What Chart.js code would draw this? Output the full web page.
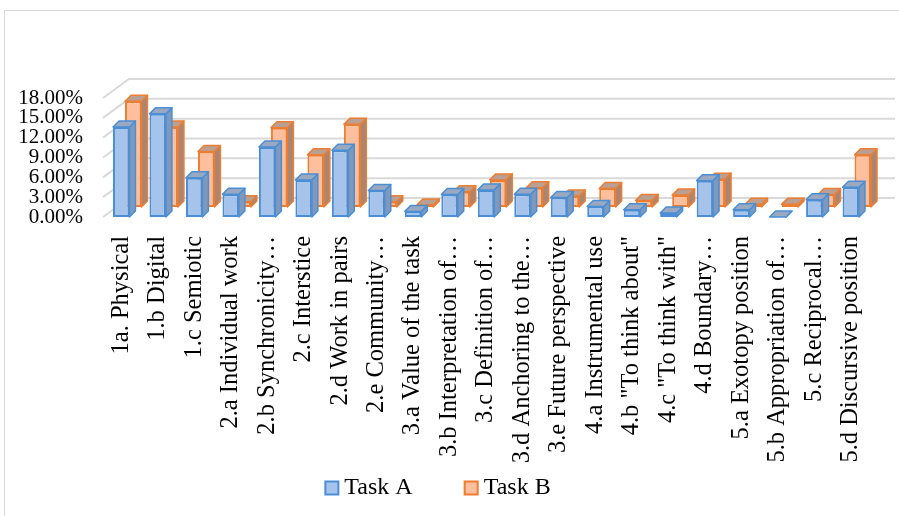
<!DOCTYPE html>
<html>
<head>
<meta charset="utf-8">
<script src="https://cdn.jsdelivr.net/npm/chart.js@4.4.1/dist/chart.umd.min.js"></script>
<style>
  html, body { margin: 0; padding: 0; background: #fff; }
  #wrap { position: relative; width: 899px; height: 516px; overflow: hidden; }
  #frame { position: absolute; left: 4px; top: 10px; width: 910px; height: 520px; border: 1.5px solid #d9d9d9; }
  #c { position: absolute; left: 0; top: 0; }
</style>
</head>
<body>
<div id="wrap">
  <div id="frame"></div>
  <canvas id="c" width="899" height="516"></canvas>
</div>
<script>
const categories = [
  '1a. Physical', '1.b Digital', '1.c Semiotic', '2.a Individual work',
  '2.b Synchronicity…', '2.c Interstice', '2.d Work in pairs', '2.e Community…',
  '3.a Value of the task', '3.b Interpretation of…', '3.c Definition of…',
  '3.d Anchoring to the…', '3.e Future perspective', '4.a Instrumental use',
  '4.b "To think about"', '4.c "To think with"', '4.d Boundary…',
  '5.a Exotopy position', '5.b Appropriation of…', '5.c Reciprocal…',
  '5.d Discursive position'
];
const seriesNames = ['Task A', 'Task B'];
// percentages
const taskA = [13.6, 15.6, 5.95, 3.45, 10.6, 5.6, 10.1, 4.0, 0.85, 3.4, 4.1,
               3.45, 2.95, 1.6, 1.1, 0.6, 5.5, 1.1, 0, 2.6, 4.5];
const taskB = [16.0, 12.1, 8.4, 0.8, 12.0, 7.9, 12.5, 0.8, 0.3, 2.3, 4.1,
               2.9, 1.65, 2.8, 1.0, 1.8, 4.2, 0.4, 0.4, 1.9, 7.9];
const yTicks = [0, 3, 6, 9, 12, 15, 18];

const WALL = { dx: 26, dy: -19 };  // back wall offset
const ROW = { dx: 12, dy: -10 };   // Task B row sits behind Task A
const FACE = 6;                    // bar depth
const AXIS_BOTTOM = 217;

const serif = 'Liberation Serif, Times New Roman, serif';

// back wall + left wall gridlines
const walls = {
  id: 'walls',
  beforeDatasetsDraw(chart){
    const { ctx, chartArea: a, scales: { y } } = chart;
    ctx.save();
    ctx.strokeStyle = '#d9d9d9';
    ctx.lineWidth = 2;
    yTicks.forEach(v => {
      const py = y.getPixelForValue(v);
      ctx.beginPath();
      ctx.moveTo(a.left, py);
      ctx.lineTo(a.left + WALL.dx, py + WALL.dy);
      ctx.lineTo(a.right + WALL.dx, py + WALL.dy);
      ctx.stroke();
    });
    ctx.restore();
  }
};

// top and side faces of each column
const bars3d = {
  id: 'bars3d',
  beforeDatasetDraw(chart, args){
    if(args.index === 1){
      chart.ctx.save();
      chart.ctx.translate(ROW.dx, ROW.dy);
    }
  },
  afterDatasetDraw(chart, args){
    const ctx = chart.ctx;
    const ds = chart.data.datasets[args.index];
    args.meta.data.forEach(bar => {
      const { x, y, base, width } = bar.getProps(['x', 'y', 'base', 'width'], true);
      const l = x - width / 2, r = x + width / 2;
      ctx.save();
      ctx.lineWidth = 1.5;
      ctx.lineJoin = 'round';
      ctx.strokeStyle = ds.borderColor;
      ctx.beginPath();
      ctx.moveTo(r, y); ctx.lineTo(r + FACE, y - FACE);
      ctx.lineTo(r + FACE, base - FACE); ctx.lineTo(r, base);
      ctx.closePath();
      ctx.fillStyle = ds.sideColor; ctx.fill(); ctx.stroke();
      ctx.beginPath();
      ctx.moveTo(l, y); ctx.lineTo(r, y);
      ctx.lineTo(r + FACE, y - FACE); ctx.lineTo(l + FACE, y - FACE);
      ctx.closePath();
      ctx.fillStyle = ds.topColor; ctx.fill(); ctx.stroke();
      ctx.restore();
    });
    if(args.index === 1) ctx.restore();
  }
};

// legend drawn under the labels
const bottomLegend = {
  id: 'bottomLegend',
  afterDraw(chart){
    const ctx = chart.ctx;
    const box = 13, gapText = 6, gapItem = 52, cy = 488, cx = 438;
    ctx.save();
    ctx.font = '24px ' + serif;
    ctx.textBaseline = 'middle';
    const items = chart.data.datasets.map(ds => ({ ds, w: ctx.measureText(ds.label).width }));
    const total = items.reduce((s, it) => s + box + gapText + it.w, 0) + gapItem * (items.length - 1);
    let x = cx - total / 2;
    items.forEach(it => {
      ctx.fillStyle = it.ds.backgroundColor;
      ctx.strokeStyle = it.ds.borderColor;
      ctx.lineWidth = 2;
      ctx.fillRect(x, cy - box / 2, box, box);
      ctx.strokeRect(x, cy - box / 2, box, box);
      ctx.fillStyle = '#000';
      ctx.fillText(it.ds.label, x + box + gapText, cy);
      x += box + gapText + it.w + gapItem;
    });
    ctx.restore();
  }
};

new Chart(document.getElementById('c'), {
  type: 'bar',
  data: {
    labels: categories,
    datasets: [
      { label: seriesNames[0], data: taskA, backgroundColor: '#a6c3ec', borderColor: '#4a8fd6',
        sideColor: '#7f98bb', topColor: '#9aa9bf', borderWidth: 2, borderSkipped: false },
      { label: seriesNames[1], data: taskB, backgroundColor: '#fdbf9d', borderColor: '#ed7d31',
        sideColor: '#a98674', topColor: '#b9a093', borderWidth: 2, borderSkipped: false }
    ]
  },
  options: {
    responsive: false,
    animation: false,
    devicePixelRatio: 1,
    layout: { padding: { top: 98, left: 16, right: 30, bottom: 0 } },
    datasets: { bar: { grouped: false, categoryPercentage: 1, barPercentage: 0.45 } },
    plugins: { legend: { display: false }, tooltip: { enabled: false } },
    scales: {
      x: {
        grid: { display: false, drawTicks: false },
        border: { display: false },
        afterFit(scale){ scale.height = 516 - AXIS_BOTTOM; scale.paddingLeft = 0; scale.paddingRight = 0; },
        ticks: {
          autoSkip: false, maxRotation: 90, minRotation: 90, padding: 19,
          color: '#000', font: { family: serif, size: 24.5 }
        }
      },
      y: {
        min: 0, max: 18,
        afterBuildTicks(scale){ scale.ticks = yTicks.map(v => ({ value: v })); },
        afterFit(scale){ scale.width = 87; },
        grid: { display: false, drawTicks: false },
        border: { display: false },
        ticks: {
          autoSkip: false, padding: 20, color: '#000', font: { family: serif, size: 21 },
          callback: v => v.toFixed(2) + '%'
        }
      }
    }
  },
  plugins: [walls, bars3d, bottomLegend]
});
</script>
</body>
</html>
